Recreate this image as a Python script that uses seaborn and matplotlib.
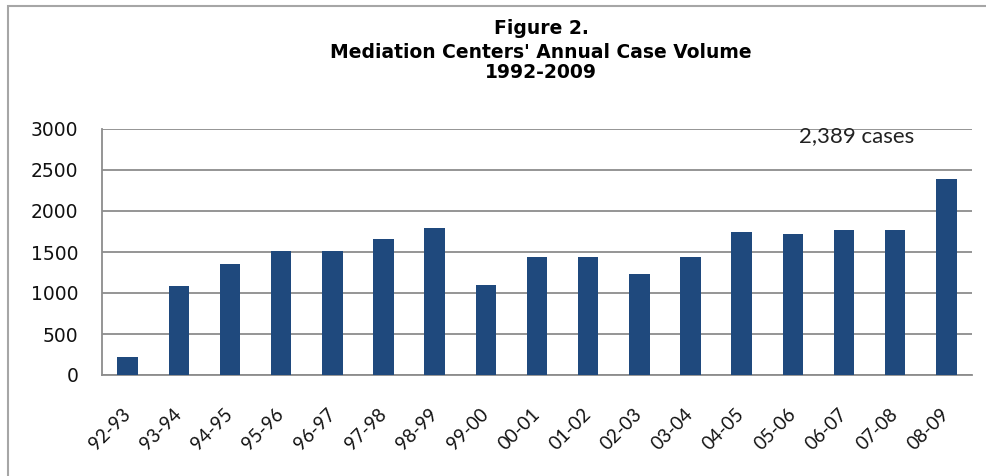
import matplotlib
matplotlib.use("Agg")
import matplotlib.pyplot as plt
import numpy as np
import pandas as pd
import seaborn as sns

# data
seasons = ["92-93", "93-94", "94-95", "95-96", "96-97", "97-98", "98-99", "99-00",
           "00-01", "01-02", "02-03", "03-04", "04-05", "05-06", "06-07", "07-08", "08-09"]
cases = [225, 1080, 1350, 1508, 1508, 1655, 1790, 1092,
         1435, 1435, 1228, 1435, 1740, 1716, 1765, 1765, 2389]
y_ticks = [0, 500, 1000, 1500, 2000, 2500, 3000]
title_lines = ["Figure 2.", "Mediation Centers' Annual Case Volume", "1992-2009"]
note = "2,389 cases"

df = pd.DataFrame({"season": seasons, "cases": cases})

sns.set_style("white")
plt.rcParams["font.family"] = ["DejaVu Sans"]

fig = plt.figure(figsize=(9.87, 4.76), dpi=100)
ax = fig.add_axes([102 / 987, 101 / 476, 870 / 987, 246 / 476])

# outer chart border (top and left visible)
fig.patches.append(plt.Rectangle((8 / 987, -0.1), 1.1, 470 / 476 + 0.1, transform=fig.transFigure,
                                 fill=False, edgecolor="#a6a6a6", linewidth=1.5, zorder=0))

sns.barplot(data=df, x="season", y="cases", color="#1f497d", width=0.4,
            saturation=1, linewidth=0, ax=ax, zorder=3)

ax.set_xlim(-0.5, len(seasons) - 0.5)
ax.set_ylim(0, 3000)
ax.set_yticks(y_ticks)
ax.set_yticklabels([str(v) for v in y_ticks], fontsize=13.5, color="#111111")
ax.yaxis.grid(True, color="#8c8c8c", linewidth=1.3, zorder=0)
ax.set_axisbelow(True)

ax.set_xticks(np.arange(len(seasons)))
ax.set_xticklabels(seasons, rotation=45, ha="right", va="center", rotation_mode="anchor",
                   fontsize=13.5, family=["Lato", "DejaVu Sans"], color="#111111")
ax.set_xticks(np.arange(len(seasons) + 1) - 0.5, minor=True)
ax.tick_params(axis="x", which="major", length=0, pad=26)
ax.tick_params(axis="x", which="minor", length=6, width=1.3, color="#8c8c8c", direction="out")
ax.tick_params(axis="y", length=7, width=1.3, color="#8c8c8c", direction="out", pad=10)

for side in ["top", "right"]:
    ax.spines[side].set_visible(False)
for side in ["left", "bottom"]:
    ax.spines[side].set_color("#8c8c8c")
    ax.spines[side].set_linewidth(1.3)

ax.set_xlabel("")
ax.set_ylabel("")

ax.text(14.25, 2915, note, ha="center", va="center", fontsize=16,
        family=["Lato", "DejaVu Sans"], color="#222222")

ys = [448, 424, 403]
for line, y in zip(title_lines, ys):
    fig.text(541 / 987, y / 476, line, ha="center", va="center", fontsize=13.5,
             fontweight="bold", color="black")

fig.savefig("out.png", dpi=100)
